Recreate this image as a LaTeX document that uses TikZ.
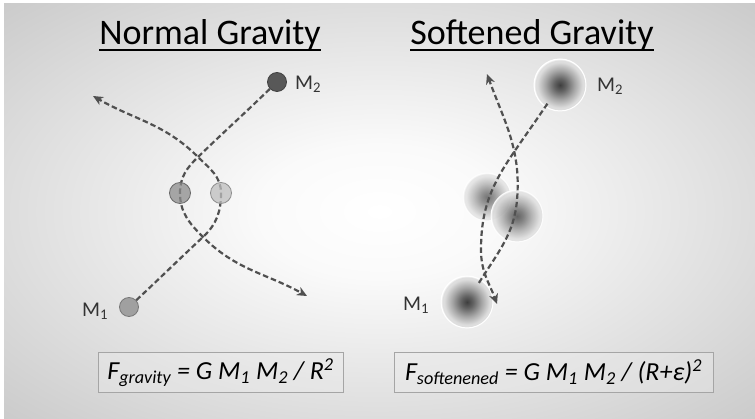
\documentclass[tikz,border=0pt]{standalone}
\usepackage{fontspec}
\setmainfont{Carlito}
\usetikzlibrary{arrows.meta, shadings}
\definecolor{bgEdge}{RGB}{202,202,202}
\definecolor{bgMid}{RGB}{250,250,250}
\definecolor{trajC}{RGB}{80,80,80}
\definecolor{massDk}{RGB}{88,88,88}
\definecolor{massMd}{RGB}{140,140,140}
\definecolor{massLt}{RGB}{160,160,160}
\definecolor{massPl}{RGB}{190,190,190}
\definecolor{blobCore}{RGB}{62,62,62}
\definecolor{blobMid}{RGB}{100,100,100}
\definecolor{blobOut}{RGB}{165,165,165}
\definecolor{blobEdge}{RGB}{222,222,222}
\definecolor{boxLine}{RGB}{165,165,165}

\pgfdeclareradialshading{backglow}{\pgfpoint{0bp}{0bp}}{%
  color(0bp)=(white); color(8bp)=(bgMid); color(36bp)=(bgEdge); color(50bp)=(bgEdge)}
\pgfdeclareradialshading{blob}{\pgfpoint{0bp}{0bp}}{%
  color(0bp)=(blobCore); color(6bp)=(blobMid); color(14bp)=(blobOut); color(22bp)=(blobEdge); color(24bp)=(blobEdge); color(25bp)=(white); color(50bp)=(white)}

\begin{document}
\begin{tikzpicture}[x=1pt, y=-1pt,
  ttl/.style={font=\fontsize{36}{40}\selectfont, inner xsep=0pt, inner ysep=2pt, anchor=base},
  lbl/.style={font=\fontsize{21}{24}\selectfont, text=black!80, anchor=west, inner sep=0pt},
  pball/.style={circle, minimum size=19pt, inner sep=0pt, draw=#1!75!black, line width=0.8pt, fill=#1},
  fball/.style={circle, minimum size=#1, inner sep=0pt, shading=blob, draw=white, line width=1pt},
  traj/.style={draw=trajC, line width=2.2pt, dash pattern=on 5.5pt off 3pt},
  tip/.style={-{Stealth[length=10pt, width=9pt, inset=3pt]}},
  eqbox/.style={draw=boxLine, line width=1pt, fill=white!92!black, fill opacity=0.4, text opacity=1,
    font=\fontsize{26}{30}\selectfont\itshape, inner sep=0pt, minimum height=40pt}
]
\useasboundingbox (0,0) rectangle (755,419);
\shade[shading=backglow] (4,4) rectangle (755,419);

% titles
\node[ttl] (ttlN) at (210,45) {Normal Gravity};
\node[ttl] (ttlS) at (532,45) {Softened Gravity};
\draw[line width=2pt] ([yshift=-5pt]ttlN.base west) -- ([yshift=-5pt]ttlN.base east);
\draw[line width=2pt] ([yshift=-5pt]ttlS.base west) -- ([yshift=-5pt]ttlS.base east);

% normal gravity
\node[pball=massDk] (nM2) at (277,82) {};
\node[pball=massLt] (nM1) at (129,307) {};
\node[lbl] at (295,84) {M\textsubscript{2}};
\node[lbl] at (82,311) {M\textsubscript{1}};
\coordinate (nTop) at (198,157);
\coordinate (nBot) at (203,237);
\coordinate (nEndA) at (307,296);
\coordinate (nEndB) at (93,96);
\coordinate (nL) at (180,193);
\coordinate (nR) at (221,193);

\draw[traj, tip] (nM2) to[out=224, in=44] (nTop) to[out=224, in=90] (nL)
  to[out=270, in=135] (nBot) to[out=315, in=151] (nEndA);
\draw[traj, tip] (nM1) to[out=43, in=223] (nBot) to[out=43, in=270] (nR)
  to[out=90, in=315] (nTop) to[out=135, in=330] (nEndB);

\node[pball=massMd, fill opacity=0.75, minimum size=21pt] (nHalfL) at (nL) {};
\node[pball=massPl, fill opacity=0.75, minimum size=21pt] (nHalfR) at (nR) {};

% softened gravity
\node[fball=52pt] (sM2) at (560,85) {};
\node[fball=52pt] (sM1) at (467,302) {};
\node[fball=48pt, opacity=0.7] (sHalfL) at (487,197) {};
\node[fball=52pt, opacity=0.8] (sHalfR) at (517,216) {};
\node[lbl] at (597,86) {M\textsubscript{2}};
\node[lbl] at (403,305) {M\textsubscript{1}};
\coordinate (sTop) at (512,155);
\coordinate (sLeft) at (481,250);
\coordinate (sRight) at (517,200);
\coordinate (sEndA) at (497,304);
\coordinate (sEndB) at (487,74);

\draw[traj, tip, shorten <=-4pt] (sM2) to[out=236, in=56] (sTop) to[out=236, in=90] (sLeft)
  to[out=270, in=110] (sEndA);
\draw[traj, tip, shorten <=-4pt] (sM1) to[out=58, in=265] (sRight) to[out=85, in=290] (sEndB);

% formulas
\node[eqbox, minimum width=245pt] (eqN) at (220.5,373)
  {F\textsubscript{gravity} = G M\textsubscript{1} M\textsubscript{2} / R\textsuperscript{2}};
\node[eqbox, minimum width=319pt] (eqS) at (553.5,372.5)
  {F\textsubscript{softenened} = G M\textsubscript{1} M\textsubscript{2} / (R+ε)\textsuperscript{2}};
\end{tikzpicture}
\end{document}
